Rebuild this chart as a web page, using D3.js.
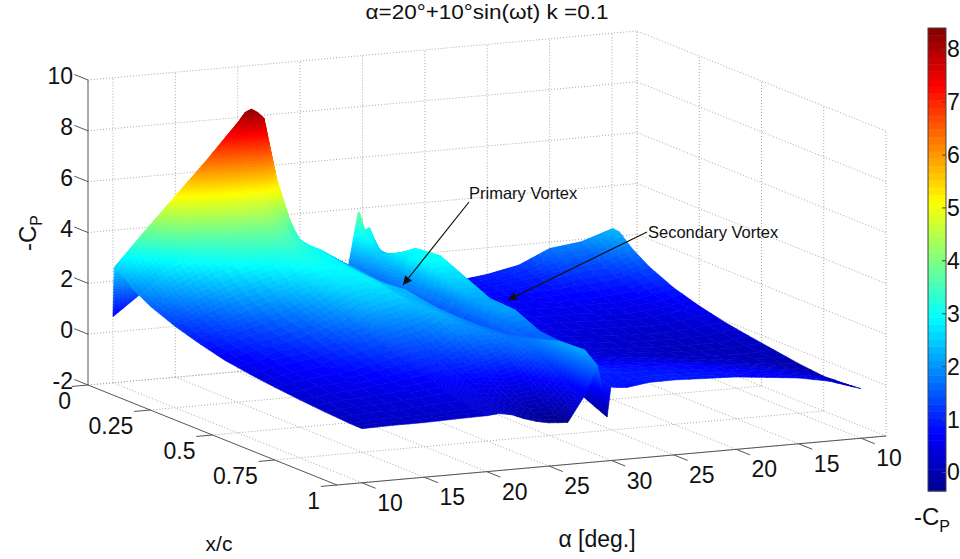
<!DOCTYPE html>
<html>
<head>
<meta charset="utf-8">
<script src="https://cdn.jsdelivr.net/npm/d3@7"></script>
<style>
  body { margin: 0; background: #fff; }
  text { font-family: "Liberation Sans", Arial, sans-serif; fill: #111; }
</style>
</head>
<body>
<div id="g"></div>
<script>
// tick labels
var alphaLabels = [10, 15, 20, 25, 30, 25, 20, 15, 10];
var xcTicks = [0, 0.25, 0.5, 0.75, 1];
var xcLabels = ["0", "0.25", "0.5", "0.75", "1"];
var cpTicks = [-2, 0, 2, 4, 6, 8, 10];
var barTicks = [0, 1, 2, 3, 4, 5, 6, 7, 8];

// surface grid
// cycle position in units of the alpha ticks (0 = first 10, 4 = 30, 8 = last 10)
var cycle = [0, 0.5, 1, 1.5, 2, 2.1, 2.2, 2.3, 2.4, 2.6, 2.8, 3, 3.3, 3.6, 3.77, 3.88, 3.93, 3.99, 4.1, 4.25, 4.6, 5, 5.5, 6, 6.5, 7, 7.5, 8];
var chord = [0, 0.005, 0.03, 0.08, 0.15, 0.25, 0.35, 0.45, 0.55, 0.65, 0.75, 0.85, 0.95, 1];
// one row per cycle position, one value per chord position
var minusCp = [
  [0.6, 2.55, 2.5, 2.0, 1.6, 1.2, 0.9, 0.65, 0.5, 0.38, 0.28, 0.2, 0.14, 0.13],
  [1.5, 3.9, 3.4, 2.8, 2.2, 1.6, 1.2, 0.95, 0.75, 0.58, 0.42, 0.3, 0.2, 0.15],
  [2.6, 5.2, 4.5, 3.3, 2.7, 2.0, 1.45, 1.15, 0.9, 0.7, 0.5, 0.33, 0.2, 0.15],
  [3.6, 6.5, 4.9, 3.7, 3.05, 2.35, 1.8, 1.5, 1.2, 0.9, 0.65, 0.42, 0.25, 0.18],
  [4.8, 7.88, 5.0, 4.0, 3.2, 2.7, 2.3, 1.9, 1.5, 1.15, 0.82, 0.52, 0.3, 0.2],
  [4.9, 8.2, 5.0, 3.95, 3.22, 2.78, 2.42, 2.02, 1.58, 1.2, 0.86, 0.54, 0.3, 0.22],
  [5.0, 8.3, 4.9, 3.9, 3.25, 2.85, 2.55, 2.15, 1.65, 1.25, 0.9, 0.55, 0.3, 0.24],
  [5.0, 8.15, 4.7, 3.8, 3.22, 2.88, 2.62, 2.22, 1.7, 1.28, 0.92, 0.55, 0.25, 0.2],
  [5.0, 7.9, 4.5, 3.7, 3.2, 2.9, 2.7, 2.3, 1.75, 1.3, 0.95, 0.55, 0.2, 0.15],
  [4.5, 5.5, 3.9, 3.4, 3.1, 2.9, 2.75, 2.4, 1.85, 1.4, 1.0, 0.55, 0.05, -0.05],
  [3.5, 3.9, 3.3, 3.1, 3.0, 2.85, 2.8, 2.5, 2.0, 1.6, 1.1, 0.5, -0.1, -0.2],
  [2.5, 2.7, 2.8, 2.9, 2.75, 2.6, 2.45, 2.3, 2.25, 1.8, 1.2, 0.4, -0.25, -0.3],
  [2.2, 2.45, 2.5, 2.4, 2.3, 2.2, 2.3, 2.1, 2.0, 1.9, 1.4, 0.5, -0.25, -0.35],
  [1.8, 2.0, 2.0, 2.0, 1.9, 1.8, 1.7, 1.7, 1.7, 1.75, 1.75, 1.1, 0.4, 0.76],
  [1.7, 1.7, 1.7, 1.65, 1.6, 1.65, 1.5, 1.35, 1.4, 1.6, 1.85, 2.15, 2.2, 1.8],
  [3.2, 3.2, 2.8, 2.2, 2.2, 2.3, 1.9, 1.7, 1.5, 1.4, 1.4, 1.5, 1.2, 0.6],
  [3.85, 3.85, 3.1, 2.5, 2.8, 3.0, 2.6, 2.2, 1.9, 1.5, 0.9, 0.4, -0.05, -0.27],
  [3.05, 3.1, 3.0, 2.5, 2.8, 3.0, 2.6, 2.2, 2.0, 1.6, 1.4, 1.0, 0.9, 0.89],
  [3.2, 3.2, 2.5, 2.45, 2.85, 3.05, 2.6, 2.2, 2.1, 1.65, 1.5, 1.1, 0.9, 0.85],
  [2.17, 2.2, 2.2, 2.4, 2.95, 3.05, 2.6, 2.15, 2.1, 1.65, 1.55, 1.1, 0.9, 0.82],
  [1.0, 1.0, 1.0, 1.0, 1.0, 1.0, 1.0, 0.95, 0.8, 0.7, 0.7, 0.9, 0.95, 0.94],
  [0.8, 0.8, 0.8, 0.8, 0.8, 0.75, 0.65, 0.55, 0.45, 0.5, 0.65, 0.85, 0.95, 0.95],
  [0.8, 0.8, 0.8, 0.8, 0.75, 0.65, 0.5, 0.4, 0.3, 0.35, 0.55, 0.8, 0.9, 0.9],
  [0.95, 0.95, 0.95, 0.9, 0.8, 0.6, 0.45, 0.3, 0.2, 0.25, 0.45, 0.7, 0.85, 0.85],
  [1.2, 1.2, 1.15, 1.05, 0.85, 0.6, 0.4, 0.25, 0.15, 0.15, 0.3, 0.55, 0.7, 0.72],
  [1.75, 1.75, 1.6, 1.3, 0.95, 0.6, 0.35, 0.2, 0.1, 0.1, 0.2, 0.4, 0.55, 0.59],
  [1.9, 1.9, 1.75, 1.4, 1.05, 0.7, 0.45, 0.25, 0.1, 0.05, 0.05, 0.2, 0.35, 0.35],
  [2.3, 2.33, 2.3, 1.85, 1.4, 0.95, 0.65, 0.42, 0.25, 0.1, -0.05, -0.15, -0.1, -0.05]
];

var WIDTH = 960, HEIGHT = 559;

var svg = d3.select("#g").append("svg")
    .attr("width", WIDTH)
    .attr("height", HEIGHT);

/* ------------scales + projection of the matlab box----------------- */
var cycleScale = d3.scaleLinear().domain([-0.4, 8.4]).range([0, 1]);
var chordScale = d3.scaleLinear().domain([0, 1]).range([0, 1]);
var zPix = d3.scaleLinear().domain([-2, 10]).range([0, -305]);
var cycleDx = d3.scaleLinear().domain([0, 1]).range([88, 637]);
var cycleDy = d3.scaleLinear().domain([0, 1]).range([385, 336]);
var chordDx = d3.scaleLinear().domain([0, 1]).range([0, 249]);
var chordDy = d3.scaleLinear().domain([0, 1]).range([0, 100]);

// c = cycle position, s = chord, z = -Cp
function project(c, s, z) {
    var t = cycleScale(c), u = chordScale(s);
    return [cycleDx(t) + chordDx(u), cycleDy(t) + chordDy(u) + zPix(z)];
}

var jet = d3.scaleLinear()
    .domain([0, 0.125, 0.375, 0.625, 0.875, 1])
    .range(["#00008f", "#0000ff", "#00ffff", "#ffff00", "#ff0000", "#800000"]);
var colorNorm = d3.scaleLinear().domain([-0.35, 8.4]).range([0, 1]).clamp(true);

/* ------------grid on the back walls and floor----------------- */
var cycleTicks = d3.range(alphaLabels.length);
var cMin = cycleScale.domain()[0], cMax = cycleScale.domain()[1];
var gridLines = [];
cpTicks.forEach(function(z) {
    gridLines.push([project(cMin, 0, z), project(cMax, 0, z)]);
    gridLines.push([project(cMax, 0, z), project(cMax, 1, z)]);
});
cycleTicks.forEach(function(c) {
    gridLines.push([project(c, 0, -2), project(c, 0, 10)]);
    gridLines.push([project(c, 0, -2), project(c, 1, -2)]);
});
xcTicks.forEach(function(s) {
    gridLines.push([project(cMax, s, -2), project(cMax, s, 10)]);
    gridLines.push([project(cMin, s, -2), project(cMax, s, -2)]);
});

svg.append("g").selectAll("line")
    .data(gridLines)
    .enter().append("line")
    .attr("x1", function(d) { return d[0][0]; })
    .attr("y1", function(d) { return d[0][1]; })
    .attr("x2", function(d) { return d[1][0]; })
    .attr("y2", function(d) { return d[1][1]; })
    .attr("stroke", "#a8a8a8")
    .attr("stroke-width", 1)
    .attr("stroke-dasharray", "1 2");

/* ------------surface, painted far to near, split finer where it is steep----------------- */
var Z_STEP = 0.12, MIN_SPLIT = 2, MAX_SPLIT = 30;

function splits(a, b, c, d) {
    var n = Math.ceil(Math.max(Math.abs(a - b), Math.abs(c - d)) / Z_STEP);
    return Math.min(MAX_SPLIT, Math.max(MIN_SPLIT, n));
}

function surfaceAt(i, j, a, b) {
    var z00 = minusCp[i][j], z01 = minusCp[i][j + 1],
        z10 = minusCp[i + 1][j], z11 = minusCp[i + 1][j + 1];
    return {
        c: cycle[i] + (cycle[i + 1] - cycle[i]) * a,
        s: chord[j] + (chord[j + 1] - chord[j]) * b,
        z: (1 - a) * ((1 - b) * z00 + b * z01) + a * ((1 - b) * z10 + b * z11)
    };
}

var facets = [];
d3.range(chord.length - 1).forEach(function(j) {
    d3.range(cycle.length - 2, -1, -1).forEach(function(i) {
        var nC = splits(minusCp[i][j], minusCp[i + 1][j], minusCp[i][j + 1], minusCp[i + 1][j + 1]);
        var nS = splits(minusCp[i][j], minusCp[i][j + 1], minusCp[i + 1][j], minusCp[i + 1][j + 1]);
        d3.range(nS).forEach(function(m) {
            d3.range(nC - 1, -1, -1).forEach(function(n) {
                var corners = [
                    surfaceAt(i, j, n / nC, m / nS),
                    surfaceAt(i, j, (n + 1) / nC, m / nS),
                    surfaceAt(i, j, (n + 1) / nC, (m + 1) / nS),
                    surfaceAt(i, j, n / nC, (m + 1) / nS)
                ];
                facets.push({
                    pts: corners.map(function(p) { return project(p.c, p.s, p.z); }),
                    z: d3.mean(corners, function(p) { return p.z; })
                });
            });
        });
    });
});

svg.append("g").selectAll("polygon")
    .data(facets)
    .enter().append("polygon")
    .attr("points", function(d) { return d.pts.join(" "); })
    .attr("fill", function(d) { return jet(colorNorm(d.z)); })
    .attr("stroke", function(d) { return jet(colorNorm(d.z)); })
    .attr("stroke-width", 0.6)
    .attr("stroke-linejoin", "round");

/* ------------axes----------------- */
var axisG = svg.append("g").attr("stroke", "#555").attr("stroke-width", 1).attr("fill", "none");

function axisLine(a, b) {
    axisG.append("line")
        .attr("x1", a[0]).attr("y1", a[1])
        .attr("x2", b[0]).attr("y2", b[1]);
}

axisLine(project(cMin, 0, -2), project(cMin, 0, 10));
axisLine(project(cMin, 0, -2), project(cMin, 1, -2));
axisLine(project(cMin, 1, -2), project(cMax, 1, -2));

cpTicks.forEach(function(z) {
    var p = project(cMin, 0, z);
    axisLine(p, project(cMin, -0.055, z));
    svg.append("text")
        .attr("x", p[0] - 15).attr("y", p[1] + 4)
        .attr("text-anchor", "end")
        .attr("font-size", 23)
        .text(z);
});

xcTicks.forEach(function(s, i) {
    var p = project(cMin, s, -2);
    axisLine(p, project(cMin - 0.26, s, -2));
    svg.append("text")
        .attr("x", p[0] - 17).attr("y", p[1] + 24)
        .attr("text-anchor", "end")
        .attr("font-size", 23)
        .text(xcLabels[i]);
});

cycleTicks.forEach(function(c) {
    var p = project(c, 1, -2);
    axisLine(p, project(c, 1.055, -2));
    svg.append("text")
        .attr("x", p[0] + 28).attr("y", p[1] + 28)
        .attr("text-anchor", "middle")
        .attr("font-size", 23)
        .text(alphaLabels[c]);
});

/* ------------titles----------------- */
svg.append("text")
    .attr("x", 487).attr("y", 19)
    .attr("text-anchor", "middle")
    .attr("font-size", 20)
    .attr("textLength", 243)
    .attr("lengthAdjust", "spacingAndGlyphs")
    .text("α=20°+10°sin(ωt) k =0.1");

svg.append("text")
    .attr("transform", "translate(36,233) rotate(-90)")
    .attr("text-anchor", "middle")
    .attr("font-size", 24)
    .html('-C<tspan dy="6" font-size="16">P</tspan>');

svg.append("text")
    .attr("x", 219).attr("y", 551)
    .attr("text-anchor", "middle")
    .attr("font-size", 21)
    .text("x/c");

svg.append("text")
    .attr("x", 597).attr("y", 547)
    .attr("text-anchor", "middle")
    .attr("font-size", 23)
    .text("α [deg.]");

/* ------------annotations----------------- */
svg.append("defs").append("marker")
    .attr("id", "end")
    .attr("viewBox", "0 -5 10 10")
    .attr("refX", 10)
    .attr("markerWidth", 9)
    .attr("markerHeight", 9)
    .attr("markerUnits", "userSpaceOnUse")
    .attr("orient", "auto")
    .append("path")
    .attr("d", "M0,-5L10,0L0,5Z")
    .attr("fill", "#111");

var notes = svg.append("g");
function note(label, lx, ly, x1, y1, x2, y2) {
    notes.append("line")
        .attr("x1", x1).attr("y1", y1)
        .attr("x2", x2).attr("y2", y2)
        .attr("stroke", "#111")
        .attr("stroke-width", 1.2)
        .attr("marker-end", "url(#end)");
    notes.append("text")
        .attr("x", lx).attr("y", ly)
        .attr("font-size", 16.5)
        .text(label);
}
note("Primary Vortex", 469, 199, 469, 202, 403, 285);
note("Secondary Vortex", 648, 238, 647, 232, 508, 300);

/* ------------colorbar----------------- */
var barY = d3.scaleLinear().domain([-0.35, 8.4]).range([491, 28]);
var barBands = d3.range(64);
var bandValue = d3.scaleLinear().domain([0, 64]).range(barY.domain());

svg.append("g").selectAll("rect")
    .data(barBands)
    .enter().append("rect")
    .attr("x", 928)
    .attr("width", 18)
    .attr("y", function(d) { return barY(bandValue(d + 1)); })
    .attr("height", function(d) { return barY(bandValue(d)) - barY(bandValue(d + 1)) + 0.5; })
    .attr("fill", function(d) { return jet((d + 0.5) / 64); });

svg.append("rect")
    .attr("x", 928).attr("y", barY(8.4))
    .attr("width", 18).attr("height", barY(-0.35) - barY(8.4))
    .attr("fill", "none").attr("stroke", "#444");

barTicks.forEach(function(v) {
    svg.append("line")
        .attr("x1", 942).attr("x2", 946)
        .attr("y1", barY(v)).attr("y2", barY(v))
        .attr("stroke", "#444");
    svg.append("text")
        .attr("x", 947).attr("y", barY(v) + 8)
        .attr("font-size", 23)
        .text(v);
});

svg.append("text")
    .attr("x", 914).attr("y", 525)
    .attr("font-size", 24)
    .html('-C<tspan dy="7" font-size="16">P</tspan>');
</script>
</body>
</html>
